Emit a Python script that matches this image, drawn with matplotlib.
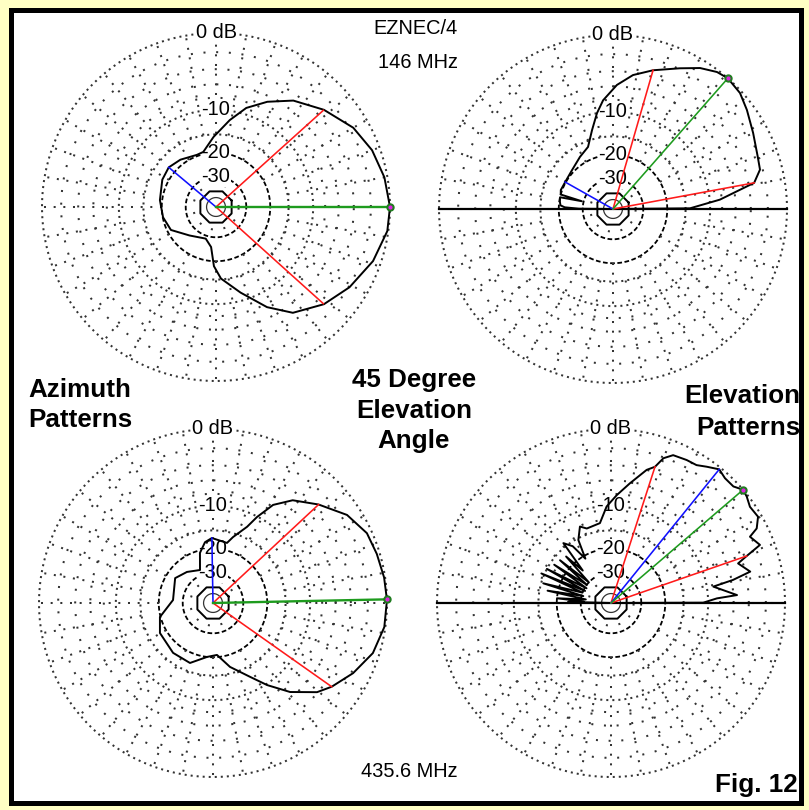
import numpy as np
import matplotlib.pyplot as plt
from matplotlib.patches import Rectangle

plt.rcParams['font.family'] = ['Liberation Sans', 'DejaVu Sans']

W, H = 809, 810
R_PX = 174

# ---- pattern data: angle (deg, CCW from right) and gain (dB) ----
az146_ang = [0, 10, 20, 30, 42, 54, 64, 73, 81, 92, 103, 110, 127, 140, 153, 173,
             191, 207, 227, 252, 263, 268, 274, 286, 297, 306, 318, 329, 341, 352, 360]
az146_db = [0, -0.3, -0.8, -1.6, -3.1, -4.8, -6.8, -8.9, -11.7, -15.6, -19.3, -19.6, -18.5,
            -17.8, -18.2, -19.3, -20.1, -21.2, -25.7, -28.4, -25.1, -18.5, -15.2, -11.5,
            -7.5, -4.9, -3.1, -1.9, -0.8, -0.1, 0]

el146_ang = [0, 0.5, 5, 10.5, 15, 20, 28.5, 36.5, 42.4, 48.7, 52.8, 58.3, 64.6, 73.9,
             81.5, 88.2, 95.2, 99.5, 104.9, 111.9, 122.4, 136.4, 150.6, 160, 164.5, 166,
             167.5, 172, 176, 178, 179.5, 180]
el146_db = [-99, -14, -8.3, -3.3, -2.3, -2.1, -1.5, -0.75, -0.2, 0, -0.2, -0.84, -1.9, -3.2,
            -4.3, -5.8, -8.0, -10.0, -13.0, -16.4, -17.8, -19.3, -19.8, -19.6, -20, -29,
            -20, -20.2, -20.5, -22, -28, -99]

az436_ang = [1, 8.5, 16.7, 24.4, 33.3, 43, 52.2, 58.5, 62.9, 65.9, 73.1, 76.9, 91, 97.5,
             104.6, 111.5, 130, 146.7, 175.7, 194.8, 209.5, 231.3, 249, 263.7, 274.4,
             284.9, 296.6, 303.4, 310.9, 319.4, 324.8, 333.4, 342.6, 352, 361]
az436_db = [0, -0.1, -0.3, -0.5, -1.4, -3.2, -5.0, -7.1, -10.1, -12.6, -15.9, -17.8, -16.9,
            -17.9, -20.8, -27.3, -25.0, -23.1, -25.2, -19.8, -18.0, -17.2, -17.1, -20.0,
            -20.7, -16.6, -12.8, -9.8, -6.7, -4.1, -3.1, -1.8, -0.65, -0.1, 0]

el436_ang = [0, 0.2, 2.5, 3.6, 9.1, 10.7, 12.7, 17.3, 19.1, 21.3, 25.5, 27.1, 30.4, 34.7,
             38.1, 40.6, 43.6, 47.6, 51, 54.9, 58.2, 62.1, 67.2, 70.1, 72.1, 75, 81, 87,
             92.6, 97.9, 108, 112.1, 117.4, 120, 124, 128.5, 131, 134, 137, 140, 143, 146,
             149, 152, 155, 157, 160, 163.8, 166, 169, 172, 175, 177, 178.5, 180]
el436_db = [-99, -10.9, -8.5, -5.5, -8.9, -5.8, -3.4, -4.6, -3.3, -1.45, -2.1, -1.05, -0.35,
            -0.5, -0.15, 0, -0.5, -0.5, -0.2, -0.75, -1.2, -1.25, -1.4, -2.1, -3.35, -4.0,
            -6.2, -8.2, -10.1, -13.2, -13.7, -12.8, -15.4, -21, -16, -14.1, -24, -17, -30,
            -16.5, -30, -16, -31, -15, -31, -14.3, -30, -15.5, -31, -17, -33, -20, -32, -24,
            -99]

# marker rays: (angle, dB)
red_rays = {'az146': [(42, -3.2), (318, -3.2)], 'el146': [(10.5, -3.3), (73.9, -3.2)],
            'az436': [(43, -3.2), (324.8, -3.1)], 'el436': [(19.1, -3.3), (72.1, -3.35)]}
green_ray = {'az146': 0, 'el146': 48.7, 'az436': 1.2, 'el436': 40.6}
blue_ray = {'az146': (140, -17.8), 'el146': (150.6, -19.8),
            'az436': (91, -16.9), 'el436': (51, -0.2)}

# grid levels
main_rings = [0, -10, -15]
minor_rings = [-2, -4, -6, -8, -35]
dashed_rings = [-20, -30]
ring_labels = [(0, '0 dB'), (-10, '-10'), (-20, '-20'), (-30, '-30')]
spoke_angles = np.arange(0, 360, 10)

plots = [
    ('az146', (216, 207), az146_ang, az146_db, False),
    ('el146', (613, 209), el146_ang, el146_db, True),
    ('az436', (213, 603), az436_ang, az436_db, False),
    ('el436', (611, 603), el436_ang, el436_db, True),
]


def arrl(db):
    # ARRL log scale: radius x0.89 per 2 dB
    return 0.89 ** (-np.asarray(db, float) / 2.0)


def xy(ang, db):
    a = np.radians(np.asarray(ang, float))
    r = arrl(db)
    return r * np.cos(a), r * np.sin(a)


fig = plt.figure(figsize=(W / 100, H / 100), dpi=100)
fig.patch.set_facecolor('#FFFFC4')
fig.patches.append(Rectangle((10.5 / W, 1 - 802.5 / H), 790 / W, 793 / H,
                             transform=fig.transFigure, facecolor='white',
                             edgecolor='black', linewidth=3.6, zorder=-5))

dot = dict(color='#333333', lw=1.45, clip_on=False, zorder=1, dash_capstyle='butt')
th = np.linspace(0, 2 * np.pi, 1441)
for key, (cx, cy), ang, db, elev in plots:
    ax = fig.add_axes([(cx - R_PX) / W, 1 - (cy + R_PX) / H, 2 * R_PX / W, 2 * R_PX / H])
    ax.set_xlim(-1, 1)
    ax.set_ylim(-1, 1)
    ax.axis('off')

    for g in main_rings:
        r = arrl(g)
        ax.plot(r * np.cos(th), r * np.sin(th), ls=(0, (1, 2.0)), **dot)
    for g in minor_rings:
        r = arrl(g)
        ax.plot(r * np.cos(th), r * np.sin(th), ls=(0, (1, 5.3)), **dot)
    for g in dashed_rings:
        r = arrl(g)
        ax.plot(r * np.cos(th), r * np.sin(th), color='black', lw=1.3,
                ls=(0, (2.6, 1.4)), clip_on=False, zorder=1)
    for s in spoke_angles:
        r0 = arrl(-15) if s % 30 else arrl(-20)
        a = np.radians(s)
        ax.plot([r0 * np.cos(a), np.cos(a)], [r0 * np.sin(a), np.sin(a)],
                ls=(0, (1, 3.8)), **dot)
    # inner octagon and circle
    oct_a = np.radians(np.arange(22.5, 383, 45))
    ro = arrl(-40)
    ax.plot(ro * np.cos(oct_a), ro * np.sin(oct_a), color='black', lw=1.4, zorder=2)
    ri = arrl(-50)
    ax.plot(ri * np.cos(th), ri * np.sin(th), color='#333333', lw=0.9, zorder=2)

    for g, lab in ring_labels:
        ax.text(0, arrl(g), lab, ha='center', va='center', fontsize=14.4,
                bbox=dict(facecolor='white', edgecolor='none', pad=0.3), zorder=3)

    if elev:
        ax.plot([-1, 1], [0, 0], color='black', lw=1.6, clip_on=False, zorder=4)

    px, py = xy(ang, db)
    ax.plot(px, py, color='black', lw=1.4, zorder=5, clip_on=False)

    for a, g in red_rays[key]:
        x1, y1 = xy(a, g)
        ax.plot([0, x1], [0, y1], color='#FF1A1A', lw=1.15, zorder=6)
    ba, bg = blue_ray[key]
    x1, y1 = xy(ba, bg)
    ax.plot([0, x1], [0, y1], color='#1010FF', lw=1.15, zorder=6)
    x1, y1 = xy(green_ray[key], 0)
    gw = 1.7 if not elev else 1.15
    ax.plot([0, x1], [0, y1], color='#1E9B1E', lw=gw, zorder=7)
    ax.plot([x1], [y1], 'o', ms=5, color='#1E7B1E', zorder=8, clip_on=False)
    ax.plot([x1], [y1], 'o', ms=2, color='#E020E0', zorder=9, clip_on=False)


def ftext(x, y, s, **kw):
    fig.text(x / W, 1 - y / H, s, va='baseline', **kw)


ftext(458, 34, 'EZNEC/4', ha='right', fontsize=14.4)
ftext(458, 68, '146 MHz', ha='right', fontsize=14.4)
ftext(458, 777, '435.6 MHz', ha='right', fontsize=14.4)

bold = dict(fontsize=18.7, fontweight='bold')
ftext(28, 397, 'Azimuth', ha='left', **bold)
ftext(28, 427, 'Patterns', ha='left', **bold)
ftext(414, 387, '45 Degree', ha='center', **bold)
ftext(414, 418, 'Elevation', ha='center', **bold)
ftext(414, 448, 'Angle', ha='center', **bold)
ftext(800, 403, 'Elevation', ha='right', **bold)
ftext(800, 435, 'Patterns', ha='right', **bold)
ftext(798, 792, 'Fig. 12', ha='right', **bold)

fig.savefig('out.png', dpi=100, facecolor=fig.get_facecolor())
plt.close(fig)
